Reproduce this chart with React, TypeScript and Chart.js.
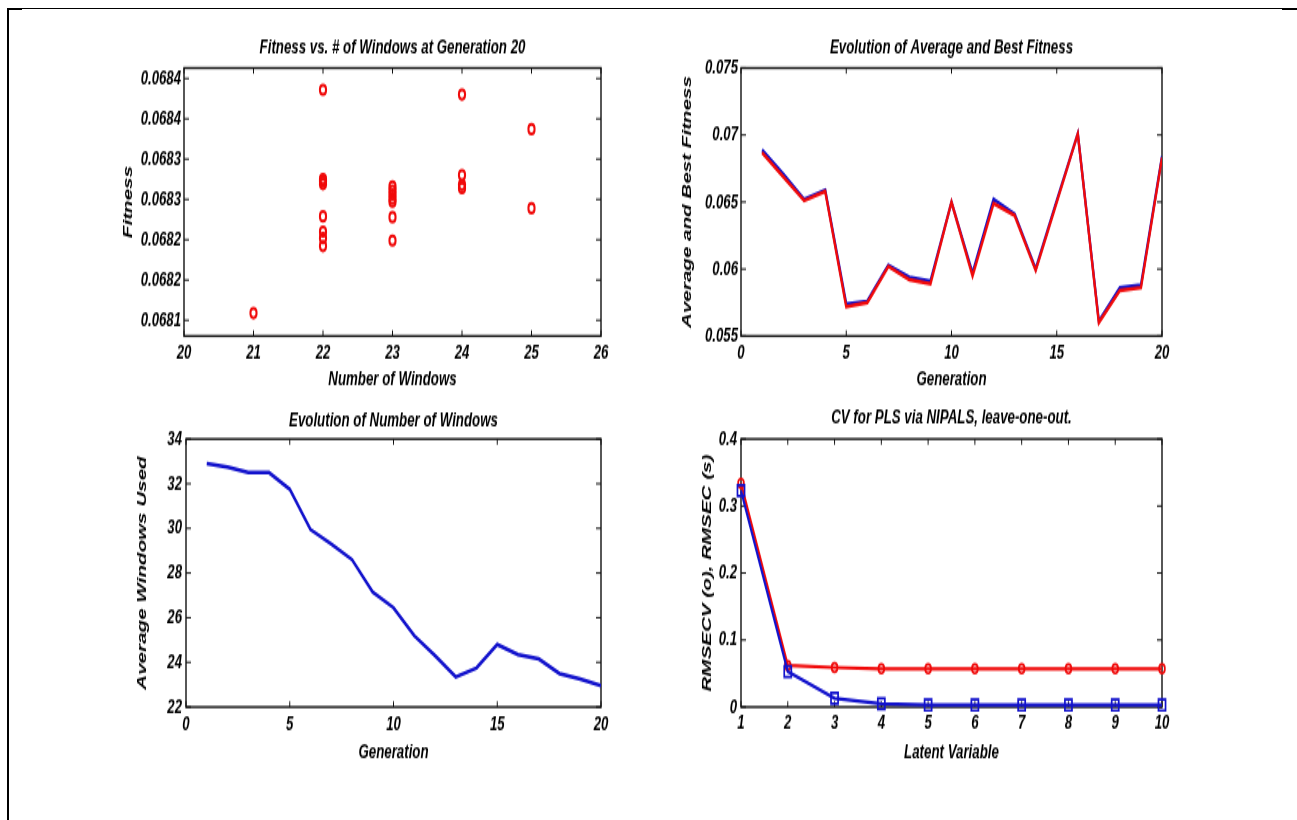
import React, { useEffect, useRef } from 'react';
import { Chart, registerables } from 'chart.js';

Chart.register(...registerables);

// ---------------- data ----------------
// Plot 1: Fitness vs. # of windows at generation 20
const P1_WINDOWS = [21, 22, 22, 22, 22, 22, 22, 22, 22, 23, 23, 23, 23, 23, 23, 23, 24, 24, 24, 24, 25, 25];
const P1_FITNESS = [
  0.068109,
  0.068386, 0.068275, 0.068272, 0.068269, 0.068229, 0.06821, 0.068202, 0.068192,
  0.068266, 0.068261, 0.068256, 0.068251, 0.068247, 0.068228, 0.068199,
  0.06838, 0.06828, 0.068268, 0.068264,
  0.068337, 0.068239,
];
const P1_X_TICKS = [20, 21, 22, 23, 24, 25, 26];
const P1_Y_TICKS = [0.0681, 0.06815, 0.0682, 0.06825, 0.0683, 0.06835, 0.0684];
const P1_Y_LABELS = ['0.0681', '0.0682', '0.0682', '0.0683', '0.0683', '0.0684', '0.0684'];

// Plot 2: Evolution of average and best fitness
const GENERATIONS = [1, 2, 3, 4, 5, 6, 7, 8, 9, 10, 11, 12, 13, 14, 15, 16, 17, 18, 19, 20];
const P2_BLUE = [0.0689, 0.0671, 0.0652, 0.0659, 0.0574, 0.0576, 0.0603, 0.0594, 0.0591, 0.065, 0.0597, 0.0652, 0.0641, 0.06, 0.0651, 0.0701, 0.0561, 0.0586, 0.0588, 0.0684];
const P2_RED = [0.0687, 0.0669, 0.0651, 0.0658, 0.0572, 0.0575, 0.0602, 0.0592, 0.0589, 0.065, 0.0595, 0.0649, 0.064, 0.0599, 0.065, 0.0701, 0.056, 0.0584, 0.0586, 0.0683];
const P2_X_TICKS = [0, 5, 10, 15, 20];
const P2_Y_TICKS = [0.055, 0.06, 0.065, 0.07, 0.075];
const P2_Y_LABELS = ['0.055', '0.06', '0.065', '0.07', '0.075'];

// Plot 3: Evolution of number of windows
const P3_WINDOWS = [32.9, 32.75, 32.5, 32.5, 31.75, 29.95, 29.3, 28.6, 27.15, 26.45, 25.2, 24.3, 23.35, 23.75, 24.8, 24.35, 24.15, 23.5, 23.25, 22.95];
const P3_X_TICKS = [0, 5, 10, 15, 20];
const P3_Y_TICKS = [22, 24, 26, 28, 30, 32, 34];
const P3_Y_LABELS = ['22', '24', '26', '28', '30', '32', '34'];

// Plot 4: CV for PLS via NIPALS
const LATENT = [1, 2, 3, 4, 5, 6, 7, 8, 9, 10];
const P4_RMSECV = [0.334, 0.062, 0.059, 0.057, 0.057, 0.057, 0.057, 0.057, 0.057, 0.057];
const P4_RMSEC = [0.323, 0.053, 0.013, 0.005, 0.003, 0.003, 0.003, 0.003, 0.003, 0.003];
const P4_X_TICKS = [1, 2, 3, 4, 5, 6, 7, 8, 9, 10];
const P4_Y_TICKS = [0, 0.1, 0.2, 0.3, 0.4];
const P4_Y_LABELS = ['0', '0.1', '0.2', '0.3', '0.4'];

// ---------------- style ----------------
const K = 1.55; // vertical stretch of the whole figure
const FAMILY = "'Liberation Sans', Arial, Helvetica, sans-serif";
const TITLE_SIZE = 13.3;
const AXIS_SIZE = 13.3;
const TICK_SIZE = 13.2;
const RED = '#f00a0a';
const BLUE = '#1212cc';
const FRAME = '#111111';
const LEFT_M = 100;
const RIGHT_M = 25;
const TITLE_ABOVE = 20;
const BELOW_XTITLE = 16;
const X_TICK_LEN = 3.7;
const Y_TICK_LEN = 5;

type Geom = { L: number; R: number; T: number; B: number; titleY: number; xTickY: number; xTitleY: number; yTickRight: number; yTitleX: number };

const G1: Geom = { L: 184, R: 601, T: 68, B: 336, titleY: 47, xTickY: 353, xTitleY: 380, yTickRight: 181, yTitleX: 128 };
const G2: Geom = { L: 741, R: 1162, T: 68, B: 336, titleY: 47, xTickY: 353, xTitleY: 380, yTickRight: 738, yTitleX: 687 };
const G3: Geom = { L: 186, R: 601, T: 439, B: 707, titleY: 420, xTickY: 725, xTitleY: 752, yTickRight: 182, yTitleX: 142 };
const G4: Geom = { L: 741, R: 1162, T: 439, B: 707, titleY: 417, xTickY: 723, xTitleY: 752, yTickRight: 737, yTitleX: 707 };

function frameFor(g: Geom) {
  const left = g.L - LEFT_M;
  const top = g.titleY - TITLE_ABOVE;
  const width = g.R - g.L + LEFT_M + RIGHT_M;
  const H = Math.ceil((g.xTitleY + BELOW_XTITLE - top) / K);
  const tm = (g.T - top) / K;
  const ph = (g.B - g.T) / K;
  const bm = H - tm - ph;
  const tLH = TITLE_SIZE * 1.2;
  const aLH = AXIS_SIZE * 1.2;
  const kLH = TICK_SIZE * 1.2;
  const titlePadTop = (g.titleY - top) / K - tLH / 2;
  const titlePadBottom = tm - tLH - titlePadTop;
  const xTickPad = (g.xTickY - g.B) / K - kLH / 2;
  const xTitlePadBottom = H - (g.xTitleY - top) / K - aLH / 2;
  const yTickPad = g.L - g.yTickRight;
  const yTitlePadTop = g.yTitleX - left - aLH / 2;
  return { left, top, width, H, bm, titlePadTop, titlePadBottom, xTickPad, xTitlePadBottom, yTickPad, yTitlePadTop };
}

const axesBoxPlugin = {
  id: 'axesBox',
  beforeDatasetsDraw(chart: any) {
    const { ctx, chartArea: a, scales } = chart;
    ctx.save();
    ctx.strokeStyle = FRAME;
    ctx.lineWidth = 1.4;
    ctx.strokeRect(a.left, a.top, a.right - a.left, a.bottom - a.top);
    ctx.lineWidth = 1;
    ctx.beginPath();
    for (const t of scales.x.ticks) {
      const px = scales.x.getPixelForValue(t.value);
      ctx.moveTo(px, a.bottom);
      ctx.lineTo(px, a.bottom - X_TICK_LEN);
      ctx.moveTo(px, a.top);
      ctx.lineTo(px, a.top + X_TICK_LEN);
    }
    for (const t of scales.y.ticks) {
      const py = scales.y.getPixelForValue(t.value);
      ctx.moveTo(a.left, py);
      ctx.lineTo(a.left + Y_TICK_LEN, py);
      ctx.moveTo(a.right, py);
      ctx.lineTo(a.right - Y_TICK_LEN, py);
    }
    ctx.stroke();
    ctx.restore();
  },
};

type AxisSpec = { min: number; max: number; ticks: number[]; labels: string[]; title: string };

function buildConfig(g: Geom, title: string, xs: AxisSpec, ys: AxisSpec, datasets: any[]) {
  const f = frameFor(g);
  const font = (size: number) => ({ family: FAMILY, size, weight: 'bold' as const, style: 'italic' as const, lineHeight: 1.2 });
  return {
    type: 'line' as const,
    data: { datasets },
    options: {
      responsive: false,
      animation: false as const,
      events: [],
      layout: { padding: { left: 0, right: RIGHT_M, top: 0, bottom: 0 } },
      plugins: {
        legend: { display: false },
        tooltip: { enabled: false },
        title: {
          display: true,
          text: title,
          fullSize: false,
          color: '#000',
          font: font(TITLE_SIZE),
          padding: { top: f.titlePadTop, bottom: f.titlePadBottom },
        },
      },
      scales: {
        x: {
          type: 'linear' as const,
          position: 'bottom' as const,
          min: xs.min,
          max: xs.max,
          grid: { display: false, drawTicks: false },
          border: { display: false },
          afterBuildTicks: (s: any) => {
            s.ticks = xs.ticks.map((v) => ({ value: v }));
          },
          afterFit: (s: any) => {
            s.height = f.bm;
            s.paddingLeft = 0;
            s.paddingRight = 0;
          },
          ticks: {
            autoSkip: false,
            maxRotation: 0,
            minRotation: 0,
            padding: f.xTickPad,
            color: '#000',
            font: font(TICK_SIZE),
            callback: (_v: any, i: number) => xs.labels[i],
          },
          title: {
            display: true,
            text: xs.title,
            color: '#000',
            font: font(AXIS_SIZE),
            padding: { top: 0, bottom: f.xTitlePadBottom },
          },
        },
        y: {
          type: 'linear' as const,
          position: 'left' as const,
          min: ys.min,
          max: ys.max,
          grid: { display: false, drawTicks: false },
          border: { display: false },
          afterBuildTicks: (s: any) => {
            s.ticks = ys.ticks.map((v) => ({ value: v }));
          },
          afterFit: (s: any) => {
            s.width = LEFT_M;
            s.paddingTop = 0;
            s.paddingBottom = 0;
          },
          ticks: {
            autoSkip: false,
            padding: f.yTickPad,
            color: '#000',
            font: font(TICK_SIZE),
            callback: (_v: any, i: number) => ys.labels[i],
          },
          title: {
            display: true,
            text: ys.title,
            color: '#000',
            font: font(AXIS_SIZE),
            padding: { top: f.yTitlePadTop, bottom: 0 },
          },
        },
      },
    },
    plugins: [axesBoxPlugin],
  };
}

const pts = (xs: number[], ys: number[]) => xs.map((x, i) => ({ x, y: ys[i] }));

function Subplot({ g, make }: { g: Geom; make: () => any }) {
  const ref = useRef<HTMLCanvasElement | null>(null);
  const f = frameFor(g);
  useEffect(() => {
    if (!ref.current) return;
    const chart = new Chart(ref.current, make());
    return () => chart.destroy();
  }, []);
  return (
    <div
      style={{
        position: 'absolute',
        left: f.left,
        top: f.top,
        width: f.width,
        height: f.H,
        transform: `scaleY(${K})`,
        transformOrigin: '0 0',
      }}
    >
      <canvas ref={ref} width={f.width} height={f.H} style={{ display: 'block', width: f.width, height: f.H }} />
    </div>
  );
}

const make1 = () =>
  buildConfig(
    G1,
    'Fitness vs. # of Windows at Generation 20',
    { min: 20, max: 26, ticks: P1_X_TICKS, labels: P1_X_TICKS.map(String), title: 'Number of Windows' },
    { min: 0.0680805, max: 0.068413, ticks: P1_Y_TICKS, labels: P1_Y_LABELS, title: 'Fitness' },
    [
      {
        data: pts(P1_WINDOWS, P1_FITNESS),
        showLine: false,
        pointStyle: 'circle',
        pointRadius: 3.1,
        pointBorderWidth: 2,
        pointBorderColor: RED,
        pointBackgroundColor: 'rgba(0,0,0,0)',
        clip: false,
      },
    ]
  );

const make2 = () =>
  buildConfig(
    G2,
    'Evolution of Average and Best Fitness',
    { min: 0, max: 20, ticks: P2_X_TICKS, labels: P2_X_TICKS.map(String), title: 'Generation' },
    { min: 0.055, max: 0.075, ticks: P2_Y_TICKS, labels: P2_Y_LABELS, title: 'Average and Best Fitness' },
    [
      { data: pts(GENERATIONS, P2_RED), borderColor: RED, borderWidth: 2.4, pointRadius: 0, tension: 0, fill: false },
      { data: pts(GENERATIONS, P2_BLUE), borderColor: BLUE, borderWidth: 2.4, pointRadius: 0, tension: 0, fill: false },
    ]
  );

const make3 = () =>
  buildConfig(
    G3,
    'Evolution of Number of Windows',
    { min: 0, max: 20, ticks: P3_X_TICKS, labels: P3_X_TICKS.map(String), title: 'Generation' },
    { min: 22, max: 34, ticks: P3_Y_TICKS, labels: P3_Y_LABELS, title: 'Average Windows Used' },
    [{ data: pts(GENERATIONS, P3_WINDOWS), borderColor: BLUE, borderWidth: 2.5, pointRadius: 0, tension: 0, fill: false }]
  );

const make4 = () =>
  buildConfig(
    G4,
    'CV for PLS via NIPALS, leave-one-out.',
    { min: 1, max: 10, ticks: P4_X_TICKS, labels: P4_X_TICKS.map(String), title: 'Latent Variable' },
    { min: 0, max: 0.4, ticks: P4_Y_TICKS, labels: P4_Y_LABELS, title: 'RMSECV (o), RMSEC (s)' },
    [
      {
        data: pts(LATENT, P4_RMSEC),
        borderColor: BLUE,
        borderWidth: 2.2,
        tension: 0,
        fill: false,
        pointStyle: 'rect',
        pointRadius: 5,
        pointBorderWidth: 1.7,
        pointBorderColor: BLUE,
        pointBackgroundColor: 'rgba(0,0,0,0)',
        clip: false,
      },
      {
        data: pts(LATENT, P4_RMSECV),
        borderColor: RED,
        borderWidth: 2.2,
        tension: 0,
        fill: false,
        pointStyle: 'circle',
        pointRadius: 2.9,
        pointBorderWidth: 1.7,
        pointBorderColor: RED,
        pointBackgroundColor: 'rgba(0,0,0,0)',
        clip: false,
      },
    ]
  );

export default function App() {
  return (
    <div>
      <div
        style={{
          position: 'absolute',
          left: 7,
          top: 8,
          width: 1290,
          height: 812,
          boxSizing: 'border-box',
          borderTop: '1px solid #000',
          borderLeft: '2px solid #000',
        }}
      />
      <div style={{ position: 'absolute', left: 7, top: 8, width: 15, height: 2, background: '#000' }} />
      <div style={{ position: 'absolute', left: 1282, top: 8, width: 15, height: 2, background: '#000' }} />
      <Subplot g={G1} make={make1} />
      <Subplot g={G2} make={make2} />
      <Subplot g={G3} make={make3} />
      <Subplot g={G4} make={make4} />
    </div>
  );
}
